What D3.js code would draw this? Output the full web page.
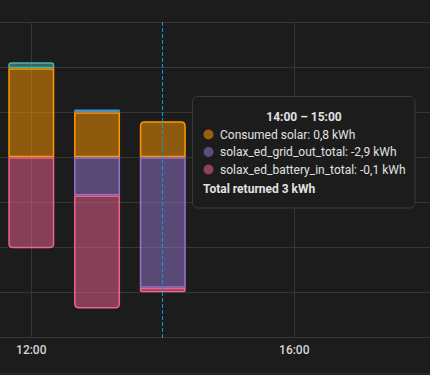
<!DOCTYPE html>
<html><head><meta charset="utf-8">
<script src="https://cdn.jsdelivr.net/npm/d3@7/dist/d3.min.js"></script>
<style>
html,body{margin:0;padding:0;background:#1c1c1c;}
svg{display:block;font-family:Roboto,"Noto Sans",sans-serif;}
</style></head><body>
<svg id="c" width="430" height="375"></svg>
<script>
const hours = ["12:00","13:00","14:00"];
const consumedSolar = [1.98, 1.0, 0.8];
const batteryOut = [0.13, 0, 0];
const gridIn = [0, 0.06, 0];
const gridOut = [0, -0.85, -2.9];
const batteryIn = [-2.02, -2.51, -0.1];
const xTicks = ["12:00","16:00"];
const yTicks = [3,2,1,0,-1,-2,-3,-4];
const tooltipTitle = "14:00 – 15:00";
const tooltipLines = ["Consumed solar: 0,8 kWh","solax_ed_grid_out_total: -2,9 kWh","solax_ed_battery_in_total: -0,1 kWh"];
const tooltipTotal = "Total returned 3 kWh";
const hoverHour = "14:00";

const colors = {solar:"#ff9800", battOut:"#4db6ac", gridIn:"#488fc2", gridOut:"#9575cd", battIn:"#f06292"};

const svg = d3.select("#c");
const parse = s => { const [h,m] = s.split(":").map(Number); return new Date(2024,0,1,h,m); };
const x = d3.scaleTime().domain([parse("12:00"), parse("16:00")]).range([31.3, 294.3]);
const y = d3.scaleLinear().domain([3,-4]).range([22.3, 337.3]);

// grid
svg.append("g").selectAll("line").data(yTicks).join("line")
  .attr("x1",0).attr("x2",430).attr("y1",d=>Math.round(y(d))+0.5).attr("y2",d=>Math.round(y(d))+0.5)
  .attr("stroke","#363636").attr("stroke-width",1);
svg.append("g").selectAll("line").data(xTicks).join("line")
  .attr("x1",d=>Math.round(x(parse(d)))+0.5).attr("x2",d=>Math.round(x(parse(d)))+0.5)
  .attr("y1",y(3)).attr("y2",y(-4)).attr("stroke","#363636");
svg.append("line").attr("x1",0).attr("x2",430).attr("y1",373.5).attr("y2",373.5).attr("stroke","#2e2e2e");

// x labels
svg.append("g").selectAll("text").data(xTicks).join("text")
  .attr("x",d=>x(parse(d))).attr("y",353.5).attr("text-anchor","middle")
  .attr("font-size",12).attr("font-weight",500).attr("fill","#d4d4d4").text(d=>d);

// bars
const barW = 46, r = 4;
function segPath(x0,y0,x1,y1,roundTop,roundBottom){
  const h = y1-y0; const rr = Math.min(r, h/2, (x1-x0)/2);
  const rt = roundTop?rr:0, rb = roundBottom?rr:0;
  return `M${x0},${y0+rt}` + (rt?`Q${x0},${y0} ${x0+rt},${y0}`:"") + `L${x1-rt},${y0}` + (rt?`Q${x1},${y0} ${x1},${y0+rt}`:"") +
    `L${x1},${y1-rb}` + (rb?`Q${x1},${y1} ${x1-rb},${y1}`:"") + `L${x0+rb},${y1}` + (rb?`Q${x0},${y1} ${x0},${y1-rb}`:"") + "Z";
}
const posSeries = [[consumedSolar,colors.solar],[batteryOut,colors.battOut],[gridIn,colors.gridIn]];
const negSeries = [[gridOut,colors.gridOut],[batteryIn,colors.battIn]];
const gBars = svg.append("g");
hours.forEach((h,i)=>{
  const cx = x(parse(h)), x0 = cx-barW/2, x1 = cx+barW/2;
  const pos = posSeries.filter(s=>s[0][i]>0); let acc = 0;
  pos.forEach((s,k)=>{
    const v = s[0][i]; const top = y(acc+v), bot = y(acc); acc += v;
    gBars.append("path").attr("d",segPath(x0+0.75,top+0.75,x1-0.75,bot-0.75,k===pos.length-1,false))
      .attr("fill",s[1]).attr("fill-opacity",0.5).attr("stroke",s[1]).attr("stroke-width",1.5);
  });
  const neg = negSeries.filter(s=>s[0][i]<0); acc = 0;
  neg.forEach((s,k)=>{
    const v = s[0][i]; const top = y(acc), bot = y(acc+v); acc += v;
    gBars.append("path").attr("d",segPath(x0+0.75,top+0.75,x1-0.75,bot-0.75,false,k===neg.length-1))
      .attr("fill",s[1]).attr("fill-opacity",0.5).attr("stroke",s[1]).attr("stroke-width",1.5);
  });
});

// hover line
const hx = Math.floor(x(parse(hoverHour)))+0.5;
svg.append("line").attr("x1",hx).attr("x2",hx).attr("y1",22).attr("y2",338)
  .attr("stroke","#039be5").attr("stroke-width",1).attr("stroke-dasharray","4,2")
  .attr("shape-rendering","crispEdges");

// tooltip
const tt = svg.append("g");
tt.append("rect").attr("x",192.5).attr("y",96.5).attr("width",222.5).attr("height",111.5).attr("rx",5)
  .attr("fill","#1c1c1c").attr("stroke","#3a3a3a");
tt.append("text").attr("x",304).attr("y",121).attr("text-anchor","middle").attr("font-size",12).attr("font-weight",700)
  .attr("fill","#e1e1e1").text(tooltipTitle);
const dotColors = [colors.solar, colors.gridOut, colors.battIn];
tooltipLines.forEach((t,i)=>{
  const cy = 134.5 + i*17.5;
  tt.append("circle").attr("cx",208.5).attr("cy",cy).attr("r",5).attr("fill",dotColors[i]).attr("fill-opacity",0.55);
  tt.append("text").attr("x",220).attr("y",cy+4.3).attr("font-size",12).attr("fill","#e1e1e1").text(t);
});
tt.append("text").attr("x",203).attr("y",192.5).attr("font-size",12).attr("font-weight",700).attr("fill","#e1e1e1").text(tooltipTotal);
</script>
</body></html>
